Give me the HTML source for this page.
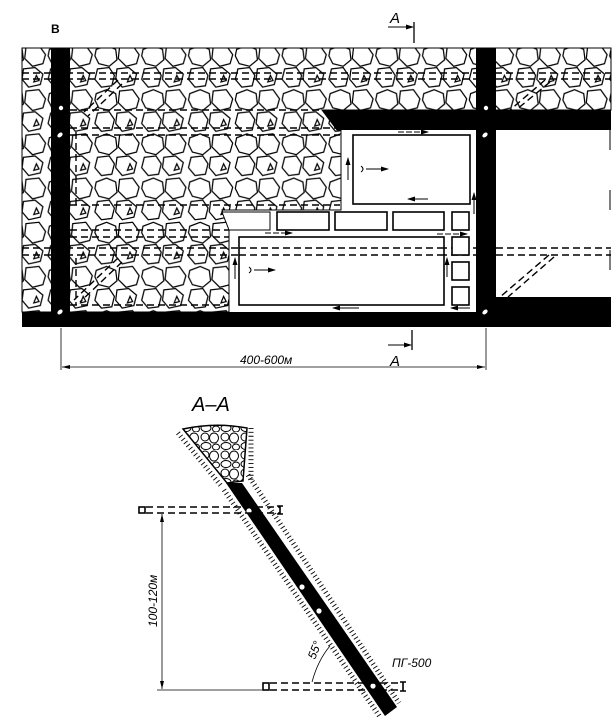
<!DOCTYPE html>
<html><head><meta charset="utf-8"><style>
html,body{margin:0;padding:0;background:#fff;}
svg{display:block;}
text{font-family:"Liberation Sans",sans-serif;}
</style></head><body>
<svg width="612" height="724" viewBox="0 0 612 724" xmlns="http://www.w3.org/2000/svg">
<defs>
<pattern id="rock" width="36" height="34" patternUnits="userSpaceOnUse" patternTransform="scale(1.3)">
<rect width="36" height="34" fill="#fff"/>
<g fill="none" stroke="#000" stroke-width="0.95">
<polygon points="2,4 10,1 17,4 18,12 12,17 4,15 1,9"/>
<polygon points="20,2 30,1 35,8 33,15 25,17 19,11"/>
<polygon points="3,19 12,18 16,24 14,32 6,33 1,27"/>
<polygon points="18,19 27,18 33,23 31,31 22,33 17,27"/>
<polygon points="28,24 30,28 26,29"/>
</g>
</pattern>
<pattern id="rock2" width="20" height="18" patternUnits="userSpaceOnUse">
<rect width="20" height="18" fill="#fff"/>
<g fill="none" stroke="#000" stroke-width="1">
<ellipse cx="5" cy="5" rx="4" ry="4"/>
<ellipse cx="14" cy="6" rx="4.5" ry="5"/>
<ellipse cx="6" cy="14" rx="5" ry="3.5"/>
<ellipse cx="16" cy="15" rx="3.5" ry="3"/>
</g>
</pattern>
<marker id="ah" markerWidth="8" markerHeight="6" refX="7" refY="3" orient="auto" markerUnits="userSpaceOnUse">
<path d="M0,0.5 L8,3 L0,5.5 Z" fill="#000"/>
</marker>
</defs>

<text x="51" y="33" font-family="Liberation Serif" font-weight="bold" font-size="12">B</text>

<text x="390" y="23" font-size="15" font-style="italic">A</text>
<line x1="414" y1="22" x2="414" y2="43" stroke="#000" stroke-width="1.3"/>
<line x1="388" y1="27" x2="413" y2="27" stroke="#000" stroke-width="1" marker-end="url(#ah)"/>

<path d="M22,48 H611 V110 H322 L337,130 H341 V210 H222 L229,228 V312 H22 Z" fill="url(#rock)" stroke="#000" stroke-width="1"/>

<g stroke="#000" stroke-width="1.4" stroke-dasharray="7,4" fill="none">
<line x1="22" y1="73" x2="611" y2="73"/>
<line x1="22" y1="79" x2="611" y2="79"/>
<line x1="70" y1="110" x2="322" y2="110"/>
<line x1="70" y1="128" x2="340" y2="128"/>
<line x1="70" y1="135" x2="340" y2="135"/>
<line x1="70" y1="205" x2="340" y2="205"/>
<line x1="70" y1="230" x2="229" y2="230"/>
<line x1="70" y1="237" x2="229" y2="237"/>
<line x1="22" y1="248" x2="611" y2="248"/>
<line x1="22" y1="255" x2="611" y2="255"/>
<line x1="70" y1="305" x2="229" y2="305"/>
<line x1="76" y1="132" x2="76" y2="205"/>
<line x1="76" y1="258" x2="76" y2="305"/>
<line x1="118" y1="80" x2="84" y2="112"/>
<line x1="122" y1="84" x2="88" y2="116"/>
<line x1="118" y1="258" x2="74" y2="300"/>
<line x1="122" y1="262" x2="80" y2="302"/>
<line x1="545" y1="80" x2="510" y2="110"/>
<line x1="550" y1="82" x2="516" y2="110"/>
</g>

<rect x="496" y="130" width="115" height="167" fill="#fff"/>
<g stroke="#000" stroke-width="1.4" stroke-dasharray="7,4" fill="none">
<line x1="496" y1="255" x2="611" y2="255"/>
<line x1="496" y1="248" x2="611" y2="248"/>
<line x1="549" y1="255" x2="500" y2="297"/>
<line x1="554" y1="257" x2="508" y2="297"/>
</g>
<line x1="610" y1="130" x2="610" y2="297" stroke="#000" stroke-width="1" stroke-dasharray="20,40"/>

<g fill="#fff" stroke="#000" stroke-width="1.6">
<rect x="353" y="135" width="117" height="69"/>
<path d="M222,212 H270 V230 H229 L222,212 Z" stroke-width="1"/>
<rect x="277" y="212" width="52" height="18"/>
<rect x="335" y="212" width="52" height="18"/>
<rect x="393" y="212" width="51" height="18"/>
<rect x="452" y="212" width="17" height="18"/>
<rect x="239" y="237" width="205" height="68"/>
<rect x="452" y="237" width="17" height="18"/>
<rect x="452" y="262" width="17" height="18"/>
<rect x="452" y="287" width="17" height="18"/>
</g>
<line x1="341" y1="130" x2="341" y2="210" stroke="#000" stroke-width="1"/>
<line x1="229" y1="230" x2="229" y2="312" stroke="#000" stroke-width="1"/>
<line x1="239" y1="255" x2="444" y2="255" stroke="#000" stroke-width="1.4" stroke-dasharray="7,4"/>
<line x1="239" y1="248" x2="444" y2="248" stroke="#000" stroke-width="1.4" stroke-dasharray="7,4"/>

<g stroke="#000" stroke-width="1" fill="none">
<line x1="398" y1="132" x2="428" y2="132" stroke-dasharray="6,2" marker-end="url(#ah)"/>
<line x1="366" y1="169" x2="388" y2="169" marker-end="url(#ah)"/>
<path d="M361,166 Q365,169 361,172"/>
<line x1="428" y1="199" x2="408" y2="199" marker-end="url(#ah)"/>
<line x1="348" y1="180" x2="348" y2="158" marker-end="url(#ah)"/>
<line x1="474" y1="214" x2="474" y2="193" marker-end="url(#ah)"/>
<line x1="235" y1="279" x2="235" y2="258" marker-end="url(#ah)"/>
<line x1="254" y1="270" x2="275" y2="270" marker-end="url(#ah)"/>
<path d="M249,267 Q253,270 249,273"/>
<line x1="359" y1="308" x2="333" y2="308" marker-end="url(#ah)"/>
<line x1="265" y1="233" x2="292" y2="233" stroke-dasharray="6,2" marker-end="url(#ah)"/>
<line x1="437" y1="234" x2="467" y2="234" stroke-dasharray="6,2" marker-end="url(#ah)"/>
<line x1="470" y1="308" x2="451" y2="308" marker-end="url(#ah)"/>
<line x1="447" y1="277" x2="447" y2="258" marker-end="url(#ah)"/>
</g>

<g fill="#000">
<rect x="51" y="48" width="19" height="279"/>
<rect x="476" y="48" width="20" height="279"/>
<path d="M322,110 H611 V130 H337 Z"/>
<rect x="22" y="312" width="589" height="15"/>
<rect x="496" y="297" width="115" height="15"/>
</g>
<g fill="#fff">
<circle cx="61" cy="108" r="2.2"/>
<ellipse cx="60" cy="135" rx="3" ry="2" transform="rotate(-40 60 135)"/>
<ellipse cx="60" cy="312" rx="3" ry="2" transform="rotate(-40 60 312)"/>
<circle cx="486" cy="108" r="2.2"/>
<ellipse cx="485" cy="135" rx="3" ry="2" transform="rotate(-40 485 135)"/>
<ellipse cx="485" cy="312" rx="3" ry="2" transform="rotate(-40 485 312)"/>
</g>

<g stroke="#000" stroke-width="0.8">
<line x1="61" y1="328" x2="61" y2="370"/>
<line x1="486" y1="328" x2="486" y2="370"/>
<line x1="62" y1="367" x2="485" y2="367"/>
</g>
<path d="M62,367 l8,-2 v4 z M485,367 l-8,-2 v4 z" fill="#000"/>
<text x="240" y="364" font-size="12" font-style="italic">400-600м</text>
<line x1="412" y1="330" x2="412" y2="350" stroke="#000" stroke-width="1.3"/>
<line x1="388" y1="345" x2="411" y2="345" stroke="#000" stroke-width="1" marker-end="url(#ah)"/>
<text x="390" y="366" font-size="15" font-style="italic">A</text>

<text x="192" y="411" font-size="20" font-style="italic">A–A</text>
<path d="M183,429 Q215,422 247,428 L243,481 L227,483 Z" fill="url(#rock2)" stroke="#000" stroke-width="1.5"/>
<g stroke="#000" stroke-width="5" stroke-dasharray="0.9,3" fill="none">
<line x1="178" y1="433" x2="222" y2="487"/>
<line x1="224" y1="490" x2="380" y2="717"/>
<line x1="251" y1="428" x2="251" y2="480"/>
<line x1="248" y1="475" x2="399" y2="703"/>
</g>
<path d="M226,483 L242,483 L397,707 L385,716 Z" fill="#000"/>
<g fill="#fff">
<circle cx="249" cy="511" r="2.6"/>
<circle cx="302" cy="587" r="2.6"/>
<circle cx="319" cy="611" r="2.6"/>
<circle cx="373" cy="686" r="2.6"/>
</g>
<g stroke="#000" stroke-width="1.4" stroke-dasharray="7,4" fill="none">
<line x1="146" y1="507" x2="280" y2="507"/>
<line x1="146" y1="513" x2="280" y2="513"/>
<line x1="270" y1="683" x2="400" y2="683"/>
<line x1="270" y1="690" x2="400" y2="690"/>
</g>
<g fill="none" stroke="#000" stroke-width="1.6">
<rect x="139" y="507" width="6" height="6"/>
<rect x="263" y="683" width="6" height="7"/>
<path d="M280,506 V514 M277,506 H283 M277,514 H283"/>
<path d="M403,682 V691 M400,682 H406 M400,691 H406"/>
</g>
<g stroke="#000" stroke-width="0.8">
<line x1="162" y1="514" x2="162" y2="689"/>
<line x1="157" y1="690" x2="262" y2="690"/>
</g>
<path d="M162,514 l-2,8 h4 z M162,689 l-2,-8 h4 z" fill="#000"/>
<text x="0" y="0" font-size="12" font-style="italic" transform="translate(157,627) rotate(-90)">100-120м</text>
<path d="M312,682 Q318,660 330,646" fill="none" stroke="#000" stroke-width="0.8"/>
<text x="0" y="0" font-size="12" font-style="italic" transform="translate(315,660) rotate(-68)">55°</text>
<text x="392" y="667" font-size="12" font-style="italic">ПГ-500</text>
</svg>
</body></html>
